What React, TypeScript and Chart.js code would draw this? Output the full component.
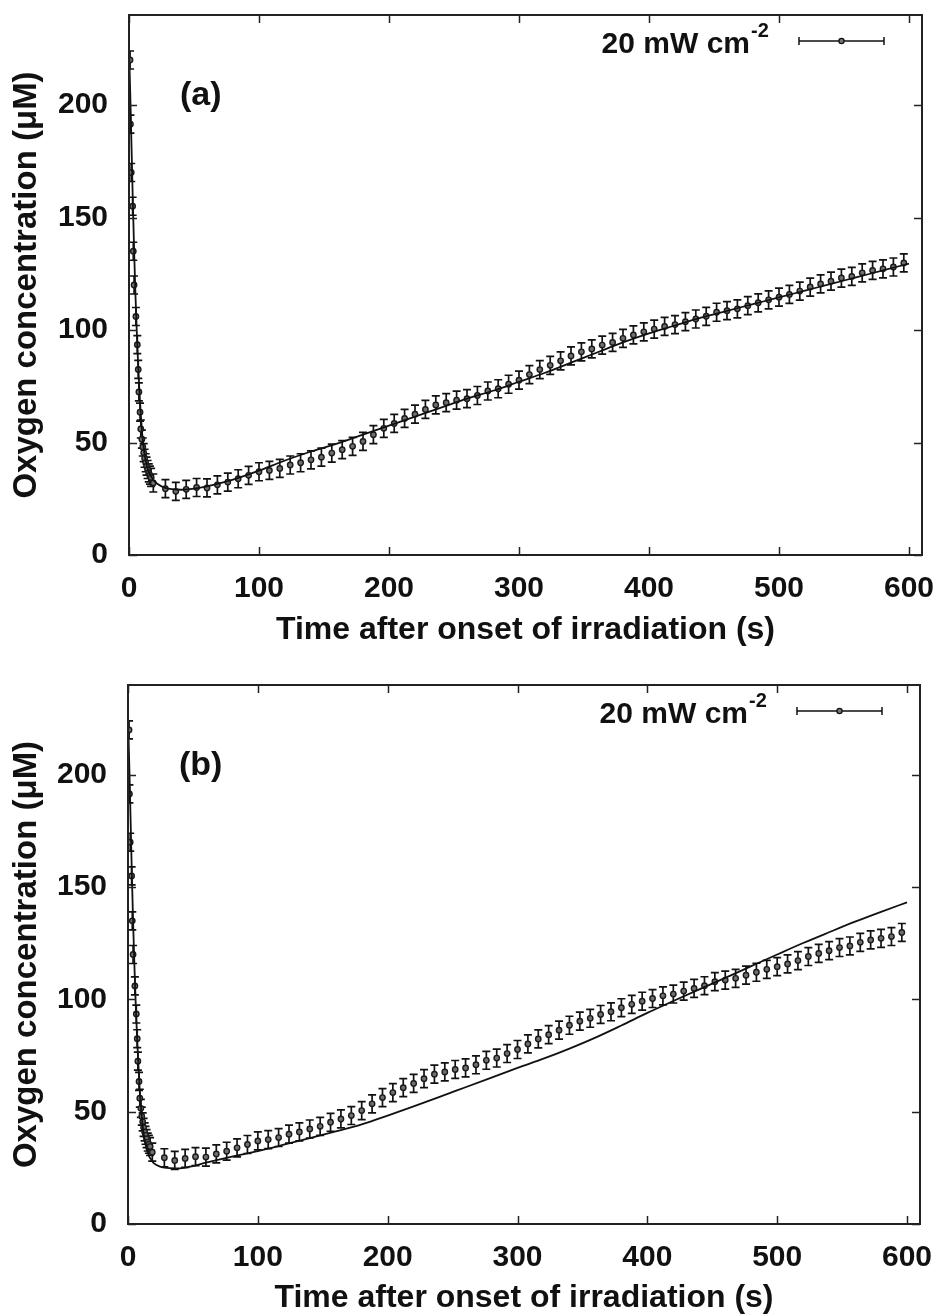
import React, { useEffect, useRef } from "react";
import { Chart, registerables } from "chart.js";

Chart.register(...registerables);

// ---------- data ----------
const X_TICKS = [0, 100, 200, 300, 400, 500, 600];
const Y_TICKS = [0, 50, 100, 150, 200];
const X_RANGE = [0, 610];
const Y_RANGE = [0, 240];

const X_TITLE = "Time after onset of irradiation (s)";
const Y_TITLE = "Oxygen concentration (\u03BCM)";
const LEGEND_MAIN = "20 mW cm";
const LEGEND_SUP = "-2";
const PANEL_LABELS = ["(a)", "(b)"];

// measured oxygen concentration (same data in both panels)
const TIME_S = [
  0.8, 1.1, 1.7, 2.8, 3.3, 3.9, 5.3, 6.4, 7.1, 7.6, 8.5, 9.1, 9.9, 10.6, 11.3, 12.0, 12.8, 13.5, 14.3, 15.2, 16.1, 17.0, 18.7,
  28, 36, 44, 52, 60, 68, 76, 84, 92, 100, 108, 116, 124, 132, 140, 148, 156, 164, 172, 180,
  188, 196, 204, 212, 220, 228, 236, 244, 252, 260, 268, 276, 284, 292, 300, 308, 316, 324, 332, 340,
  348, 356, 364, 372, 380, 388, 396, 404, 412, 420, 428, 436, 444, 452, 460, 468, 476, 484, 492, 500,
  508, 516, 524, 532, 540, 548, 556, 564, 572, 580, 588, 596,
];
const O2_MEAN = [
  220, 191.5, 170, 155, 135, 120, 106, 93.5, 82.5, 72.5, 63.5, 56, 51.5, 48, 45.5, 43, 41, 39.5, 38, 36.5, 35.5, 34.5, 32,
  29.5, 28.3, 29.2, 30.0, 29.8, 31.2, 32.4, 33.9, 35.4, 37.0, 37.6, 38.5, 40.0, 41.0, 42.3, 43.5, 45.3, 46.8, 48.3, 50.5,
  53.5, 56.3, 58.5, 60.7, 62.6, 64.7, 66.7, 67.7, 68.8, 69.5, 70.9, 72.9, 73.9, 75.9, 77.7, 80.2, 82.4, 84.3, 86.3, 88.5,
  90.3, 91.6, 93.3, 94.5, 96.3, 97.8, 99.2, 100.4, 101.6, 102.4, 103.7, 104.9, 106.1, 107.9, 108.6, 109.4, 110.8, 112.1, 113.4, 114.6,
  115.8, 117.3, 119.1, 120.5, 121.7, 123.1, 123.8, 125.4, 126.5, 127.2, 128.0, 129.8,
];
const O2_ERR = [
  4, 4, 4, 4, 4, 4, 4, 4, 4, 4, 4, 4, 4, 4, 4, 4, 4, 4, 4, 4, 4, 4, 4,
  4, 4, 4, 4, 4, 4, 4, 4, 4, 4, 4, 4, 4, 4, 4, 4, 4, 4, 4, 4,
  4, 4, 4, 4, 4, 4, 4, 4, 4, 4, 4, 4, 4, 4, 4, 4, 4, 4, 4, 4,
  4, 4, 4, 4, 4, 4, 4, 4, 4, 4, 4, 4, 4, 4, 4, 4, 4, 4, 4, 4,
  4, 4, 4, 4, 4, 4, 4, 4, 4, 4, 4, 4,
];

// model curves
const MODEL_A_T = [0, 1, 2, 3, 4, 5, 6, 7, 8, 9, 10, 11, 12, 14, 16, 18, 20, 25, 30, 40, 50, 60, 80, 100, 120, 140, 160, 180, 200, 220, 240, 260, 280, 300, 320, 340, 360, 380, 400, 420, 440, 460, 480, 500, 520, 540, 560, 580, 600];
const MODEL_A_V = [226, 204, 180, 156, 134, 115, 99, 85, 73, 63, 55, 49, 44.5, 39, 36, 34, 32.5, 30.5, 29.5, 29, 29.5, 30.5, 33.5, 37.5, 42, 46, 49.5, 53.5, 57.5, 61.5, 65.5, 69.5, 73, 77, 81, 85.5, 90, 94.5, 98.5, 102, 105.5, 108.5, 111.5, 114.5, 117.5, 120.5, 123.5, 126.5, 129.5];
const MODEL_B_T = [0, 1, 2, 3, 4, 5, 6, 7, 8, 9, 10, 11, 12, 14, 16, 18, 20, 25, 30, 40, 50, 60, 80, 100, 120, 140, 160, 180, 200, 220, 240, 260, 280, 300, 320, 340, 360, 380, 400, 420, 440, 460, 480, 500, 520, 540, 560, 580, 600];
const MODEL_B_V = [226, 204, 180, 155, 133, 114, 97, 83, 71, 60, 52, 45.5, 40.5, 34, 30.5, 28.5, 27, 25.5, 25, 24.8, 25.8, 27.3, 30, 32.5, 35.3, 38.2, 41.2, 44.4, 48.3, 52.4, 56.6, 60.9, 65.2, 69.5, 73.6, 78.1, 83, 88.4, 94, 99.3, 104.5, 109.6, 114.8, 120, 125.1, 129.9, 134.6, 139, 143.2];

// ---------- styling ----------
const FONT_FAMILY = "'Liberation Sans', Arial, Helvetica, sans-serif";
const INK = "#111111";

type PanelCfg = {
  label: string;
  modelT: number[];
  modelV: number[];
  top: number;
  height: number;
  padTop: number;
  padRight: number;
  yWidth: number;
  xHeight: number;
  xTitlePadBottom: number;
};

const PANELS: PanelCfg[] = [
  { label: PANEL_LABELS[0], modelT: MODEL_A_T, modelV: MODEL_A_V, top: 0, height: 655, padTop: 15, padRight: 15, yWidth: 129, xHeight: 100, xTitlePadBottom: 9 },
  { label: PANEL_LABELS[1], modelT: MODEL_B_T, modelV: MODEL_B_V, top: 665, height: 649, padTop: 20, padRight: 17, yWidth: 128, xHeight: 90, xTitlePadBottom: 0 },
];

const zeroPadding = (s: any) => {
  s.paddingTop = 0;
  s.paddingBottom = 0;
  s.paddingLeft = 0;
  s.paddingRight = 0;
};

const errorBarPlugin = {
  id: "errorBars",
  beforeDatasetDraw(chart: any, args: any) {
    if (args.index !== 1) return;
    const { ctx, chartArea } = chart;
    const xs = chart.scales.x;
    const ys = chart.scales.y;
    ctx.save();
    ctx.beginPath();
    ctx.rect(chartArea.left, chartArea.top, chartArea.right - chartArea.left, chartArea.bottom - chartArea.top);
    ctx.clip();
    ctx.strokeStyle = INK;
    ctx.lineWidth = 1.7;
    const cap = 4;
    for (let i = 0; i < TIME_S.length; i++) {
      const px = xs.getPixelForValue(TIME_S[i]);
      const y1 = ys.getPixelForValue(O2_MEAN[i] - O2_ERR[i]);
      const y2 = ys.getPixelForValue(O2_MEAN[i] + O2_ERR[i]);
      ctx.beginPath();
      ctx.moveTo(px, y1);
      ctx.lineTo(px, y2);
      ctx.moveTo(px - cap, y1);
      ctx.lineTo(px + cap, y1);
      ctx.moveTo(px - cap, y2);
      ctx.lineTo(px + cap, y2);
      ctx.stroke();
    }
    ctx.restore();
  },
};

const framePlugin = {
  id: "frameTicks",
  afterDraw(chart: any) {
    const { ctx, chartArea } = chart;
    const { left, right, top, bottom } = chartArea;
    const xs = chart.scales.x;
    const ys = chart.scales.y;
    ctx.save();
    ctx.strokeStyle = "#222";
    ctx.lineWidth = 2;
    ctx.strokeRect(left, top, right - left, bottom - top);
    ctx.lineWidth = 1.5;
    const tl = 8;
    ctx.beginPath();
    for (const v of X_TICKS) {
      const px = Math.round(xs.getPixelForValue(v)) + 0.5;
      ctx.moveTo(px, bottom);
      ctx.lineTo(px, bottom - tl);
      ctx.moveTo(px, top);
      ctx.lineTo(px, top + tl);
    }
    for (const v of Y_TICKS) {
      const py = Math.round(ys.getPixelForValue(v)) + 0.5;
      ctx.moveTo(left, py);
      ctx.lineTo(left + tl, py);
      ctx.moveTo(right, py);
      ctx.lineTo(right - tl, py);
    }
    ctx.stroke();
    ctx.restore();
  },
};

const annotatePlugin = {
  id: "annotate",
  afterDraw(chart: any, _args: any, opts: any) {
    const { ctx, chartArea } = chart;
    const { right, top, left } = chartArea;
    ctx.save();
    ctx.fillStyle = INK;
    ctx.textBaseline = "alphabetic";
    // panel label
    ctx.font = `bold 34px ${FONT_FAMILY}`;
    ctx.textAlign = "left";
    ctx.fillText(opts.label, left + 51, top + 90);
    // legend text
    ctx.font = `bold 30px ${FONT_FAMILY}`;
    ctx.textAlign = "right";
    const textRight = right - 172;
    ctx.fillText(LEGEND_MAIN, textRight, top + 38);
    ctx.font = `bold 20px ${FONT_FAMILY}`;
    ctx.textAlign = "left";
    ctx.fillText(LEGEND_SUP, textRight + 1, top + 22);
    // legend sample
    const sx1 = right - 123;
    const sx2 = right - 38;
    const sy = top + 26;
    ctx.strokeStyle = INK;
    ctx.lineWidth = 1.5;
    ctx.beginPath();
    ctx.moveTo(sx1, sy);
    ctx.lineTo(sx2, sy);
    ctx.moveTo(sx1, sy - 4);
    ctx.lineTo(sx1, sy + 4);
    ctx.moveTo(sx2, sy - 4);
    ctx.lineTo(sx2, sy + 4);
    ctx.stroke();
    ctx.beginPath();
    ctx.arc((sx1 + sx2) / 2, sy, 2.6, 0, Math.PI * 2);
    ctx.fillStyle = "#777";
    ctx.fill();
    ctx.lineWidth = 1.3;
    ctx.stroke();
    ctx.restore();
  },
};

function Panel({ cfg }: { cfg: PanelCfg }) {
  const ref = useRef<HTMLCanvasElement | null>(null);
  useEffect(() => {
    if (!ref.current) return;
    const tickFont = { family: FONT_FAMILY, size: 30, weight: "bold" as const };
    const xTitleFont = { family: FONT_FAMILY, size: 32, weight: "bold" as const, lineHeight: 1 };
    const yTitleFont = { family: FONT_FAMILY, size: 33, weight: "bold" as const, lineHeight: 1 };
    const chart = new Chart(ref.current, {
      type: "scatter",
      data: {
        datasets: [
          {
            type: "line",
            data: cfg.modelT.map((t, i) => ({ x: t, y: cfg.modelV[i] })),
            borderColor: INK,
            borderWidth: 1.8,
            pointRadius: 0,
            cubicInterpolationMode: "monotone",
            fill: false,
          } as any,
          {
            type: "scatter",
            data: TIME_S.map((t, i) => ({ x: t, y: O2_MEAN[i] })),
            pointRadius: 2.7,
            pointBackgroundColor: "#707070",
            pointBorderColor: "#1a1a1a",
            pointBorderWidth: 1.4,
            showLine: false,
          } as any,
        ],
      },
      options: {
        animation: false,
        responsive: false,
        maintainAspectRatio: false,
        devicePixelRatio: 1,
        layout: { padding: { top: cfg.padTop, right: cfg.padRight, left: 0, bottom: 0 } },
        plugins: {
          legend: { display: false },
          tooltip: { enabled: false },
          annotate: { label: cfg.label },
        } as any,
        scales: {
          x: {
            type: "linear",
            min: X_RANGE[0],
            max: X_RANGE[1],
            afterBuildTicks: (s: any) => {
              s.ticks = X_TICKS.map((v) => ({ value: v }));
            },
            afterFit: (s: any) => {
              s.height = cfg.xHeight;
              zeroPadding(s);
            },
            grid: { display: false, drawTicks: false },
            border: { display: false },
            ticks: { font: tickFont, color: INK, padding: 16, maxRotation: 0, autoSkip: false, callback: (v: any) => String(v) },
            title: { display: true, text: X_TITLE, font: xTitleFont, color: INK, padding: { top: 0, bottom: cfg.xTitlePadBottom } },
          },
          y: {
            type: "linear",
            min: Y_RANGE[0],
            max: Y_RANGE[1],
            afterBuildTicks: (s: any) => {
              s.ticks = Y_TICKS.map((v) => ({ value: v }));
            },
            afterFit: (s: any) => {
              s.width = cfg.yWidth;
              zeroPadding(s);
            },
            grid: { display: false, drawTicks: false },
            border: { display: false },
            ticks: { font: tickFont, color: INK, padding: 21, autoSkip: false, callback: (v: any) => String(v) },
            title: { display: true, text: Y_TITLE, font: yTitleFont, color: INK, padding: { top: 10, bottom: 0 } },
          },
        },
      },
      plugins: [errorBarPlugin, framePlugin, annotatePlugin],
    } as any);
    return () => chart.destroy();
  }, [cfg]);
  return (
    <canvas
      ref={ref}
      width={937}
      height={cfg.height}
      style={{ position: "absolute", left: 0, top: cfg.top, width: 937, height: cfg.height }}
    />
  );
}

export default function App() {
  return (
    <div style={{ position: "absolute", left: 0, top: 0, width: 937, height: 1314, background: "#fff", overflow: "hidden" }}>
      {PANELS.map((p) => (
        <Panel key={p.label} cfg={p} />
      ))}
    </div>
  );
}
